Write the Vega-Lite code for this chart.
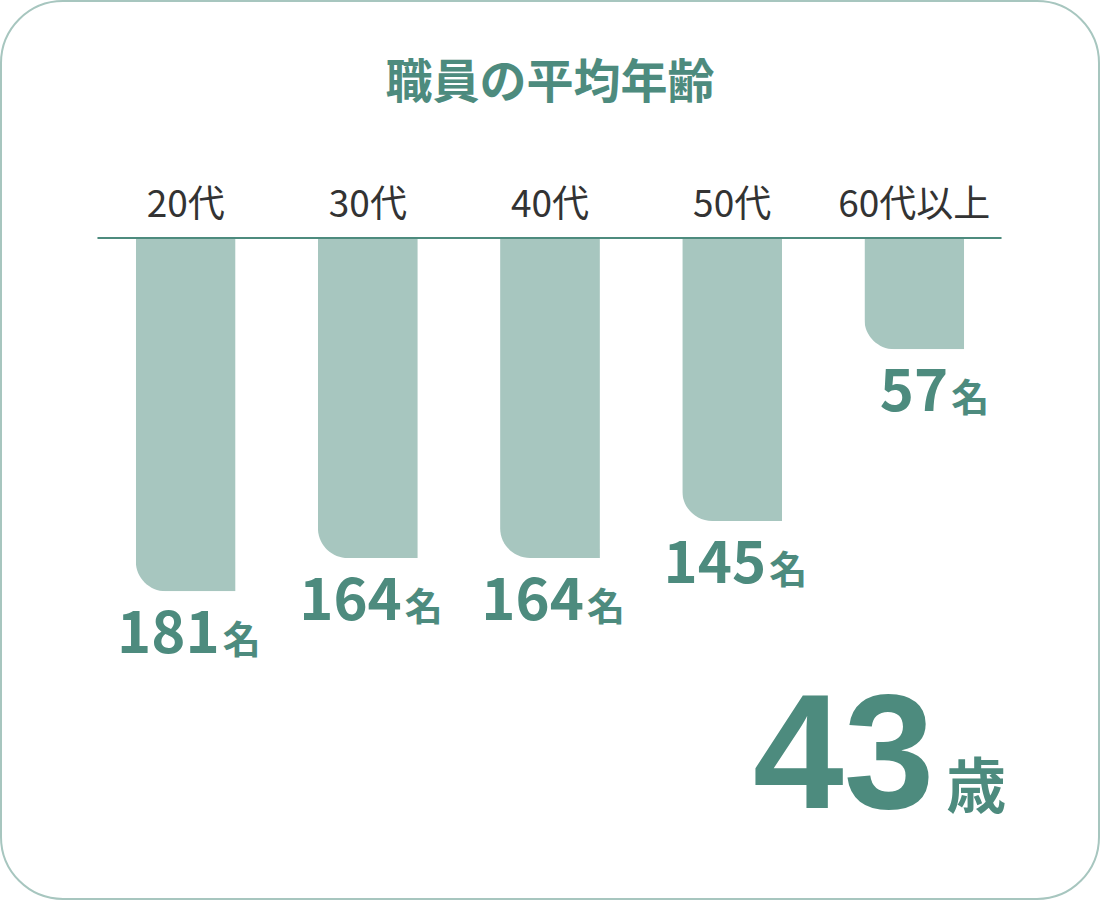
{
  "$schema": "https://vega.github.io/schema/vega-lite/v6.json",
  "width": 1098,
  "height": 898,
  "padding": 1,
  "autosize": {"type": "none"},
  "background": "#ffffff",
  "config": {
    "view": {"stroke": "#a7c6bf", "strokeWidth": 2, "cornerRadius": 62, "fill": "#ffffff"}
  },
  "title": {
    "text": "職員の平均年齢",
    "font": "Noto Sans CJK JP",
    "fontSize": 47,
    "fontWeight": "bold",
    "color": "#4d8b7e",
    "anchor": "middle",
    "baseline": "alphabetic",
    "offset": -144
  },
  "datasets": {
    "ages": [
      {"age": "20代", "count": 181},
      {"age": "30代", "count": 164},
      {"age": "40代", "count": 164},
      {"age": "50代", "count": 145},
      {"age": "60代以上", "count": 57}
    ]
  },
  "data": {"name": "ages"},
  "encoding": {
    "x": {
      "field": "age",
      "type": "nominal",
      "sort": null,
      "axis": null,
      "scale": {"type": "band", "paddingInner": 0.452, "paddingOuter": 0.74}
    }
  },
  "layer": [
    {
      "mark": {"type": "bar", "color": "#a7c6bf", "cornerRadiusBottomLeft": 30},
      "encoding": {
        "y": {
          "field": "count",
          "type": "quantitative",
          "axis": null,
          "scale": {"domain": [-121.5, 338.8], "reverse": true, "nice": false, "zero": false}
        }
      }
    },
    {
      "mark": {"type": "rule", "color": "#4d8b7e", "strokeWidth": 2},
      "encoding": {
        "x": {"datum": "20代", "bandPosition": -0.38},
        "x2": {"datum": "60代以上", "bandPosition": 1.37},
        "y": {"datum": 0, "type": "quantitative"}
      }
    },
    {
      "mark": {"type": "text", "font": "Noto Sans CJK JP", "fontSize": 37, "color": "#333333", "baseline": "alphabetic", "align": "center", "dy": -21},
      "encoding": {
        "text": {"field": "age"},
        "y": {"datum": 0, "type": "quantitative"}
      }
    },
    {
      "mark": {"type": "text", "font": "Noto Sans CJK JP", "fontSize": 58, "fontWeight": "bold", "color": "#4d8b7e", "baseline": "alphabetic", "align": "right", "dx": 34, "dy": 62},
      "encoding": {
        "text": {"field": "count", "type": "quantitative"},
        "y": {"field": "count", "type": "quantitative"}
      }
    },
    {
      "mark": {"type": "text", "font": "Noto Sans CJK JP", "fontSize": 38, "fontWeight": "bold", "color": "#4d8b7e", "baseline": "alphabetic", "align": "left", "dx": 37, "dy": 62},
      "encoding": {
        "text": {"value": "名"},
        "y": {"field": "count", "type": "quantitative"}
      }
    },
    {
      "data": {"values": [{"label": "平均年齢", "avg": 43}]},
      "mark": {"type": "text", "font": "Liberation Sans", "fontSize": 163, "fontWeight": "bold", "color": "#4d8b7e", "baseline": "alphabetic", "align": "right", "dx": 20},
      "encoding": {
        "x": {"datum": "60代以上"},
        "y": {"datum": 292, "type": "quantitative"},
        "text": {"field": "avg", "type": "quantitative"}
      }
    },
    {
      "data": {"values": [{"label": "平均年齢", "avg": 43}]},
      "mark": {"type": "text", "font": "Noto Sans CJK JP", "fontSize": 60, "fontWeight": "bold", "color": "#4d8b7e", "baseline": "alphabetic", "align": "left", "dx": 32},
      "encoding": {
        "x": {"datum": "60代以上"},
        "y": {"datum": 292, "type": "quantitative"},
        "text": {"value": "歳"}
      }
    }
  ]
}
